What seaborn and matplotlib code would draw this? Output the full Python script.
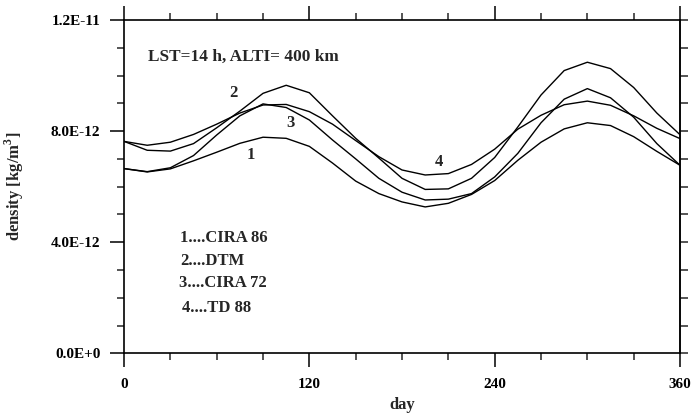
"""
Seasonal variation of thermospheric density from four models
(LST=14 h, altitude 400 km). Saves out.png.
"""

import pandas as pd
import matplotlib
matplotlib.use('Agg')
import matplotlib.pyplot as plt
import seaborn as sns
from matplotlib.ticker import MultipleLocator

# day of year, every 15 days
days = [0, 15, 30, 45, 60, 75, 90, 105, 120, 135, 150, 165, 180,
        195, 210, 225, 240, 255, 270, 285, 300, 315, 330, 345, 360]

# density in units of 1E-12 kg/m^3
cira86 = [6.65, 6.53, 6.64, 6.93, 7.24, 7.56, 7.78, 7.74, 7.45, 6.85, 6.20, 5.75, 5.45,
          5.27, 5.40, 5.72, 6.22, 6.95, 7.60, 8.08, 8.30, 8.20, 7.80, 7.27, 6.77]
dtm = [7.63, 7.31, 7.28, 7.55, 8.12, 8.72, 9.36, 9.65, 9.38, 8.55, 7.74, 7.03, 6.30,
       5.90, 5.92, 6.30, 7.05, 8.15, 9.30, 10.18, 10.48, 10.25, 9.57, 8.65, 7.87]
cira72 = [6.65, 6.54, 6.68, 7.12, 7.86, 8.55, 8.98, 8.85, 8.40, 7.68, 7.00, 6.30, 5.80,
          5.52, 5.55, 5.75, 6.35, 7.20, 8.30, 9.15, 9.53, 9.20, 8.50, 7.55, 6.77]
td88 = [7.63, 7.49, 7.60, 7.88, 8.25, 8.65, 8.94, 8.96, 8.70, 8.25, 7.66, 7.08, 6.60,
        6.42, 6.47, 6.80, 7.35, 8.07, 8.57, 8.95, 9.08, 8.93, 8.55, 8.10, 7.73]

model_names = ['CIRA 86', 'DTM', 'CIRA 72', 'TD 88']
x_ticks = [0, 120, 240, 360]
y_ticks = [0.0, 4e-12, 8e-12, 1.2e-11]
y_tick_labels = ['0.0E+0', '4.0E-12', '8.0E-12', '1.2E-11']

sns.set_style("ticks")
plt.rcParams['font.family'] = ['Liberation Serif', 'DejaVu Serif']
plt.rcParams['font.weight'] = 'bold'
plt.rcParams['mathtext.fontset'] = 'custom'
plt.rcParams['mathtext.rm'] = 'Liberation Serif:bold'
plt.rcParams['mathtext.bf'] = 'Liberation Serif:bold'

# long form table for seaborn
frames = []
for name, vals in zip(model_names, [cira86, dtm, cira72, td88]):
    frames.append(pd.DataFrame({'day': days,
                                'density': [v * 1e-12 for v in vals],
                                'model': name}))
df = pd.concat(frames, ignore_index=True)

fig = plt.figure(figsize=(6.91, 4.17), dpi=100)
ax = fig.add_axes([0.1795, 0.1528, 0.8046, 0.7992])

sns.lineplot(data=df, x='day', y='density', hue='model', hue_order=model_names,
             palette=['black'] * 4, linewidth=1.0, legend=False, ax=ax)

ax.set_xlim(0, 360)
ax.set_ylim(0, 1.2e-11)
ax.set_xticks(x_ticks)
ax.set_xticklabels([str(t) for t in x_ticks])
ax.set_yticks(y_ticks)
ax.set_yticklabels(y_tick_labels)
ax.xaxis.set_minor_locator(MultipleLocator(30))
ax.yaxis.set_minor_locator(MultipleLocator(1e-12))

for s in ax.spines.values():
    s.set_linewidth(1.2)
    s.set_color('black')

ax.tick_params(axis='both', which='major', direction='out', length=10, width=1.1,
               labelsize=11, colors='black')
ax.tick_params(axis='both', which='minor', direction='out', length=5, width=1.1)
ax.tick_params(axis='x', which='both', top=True)
ax.tick_params(axis='x', which='major', pad=8)
ax.tick_params(axis='y', which='major', pad=7)

# right axis: short ticks, no labels
sec = ax.secondary_yaxis('right')
sec.set_yticks(y_ticks)
sec.yaxis.set_minor_locator(MultipleLocator(1e-12))
sec.tick_params(axis='y', which='both', direction='out', length=5.5, width=1.1,
                labelright=False)
sec.spines['right'].set_linewidth(1.2)

ax.set_xlabel('day', fontsize=12, fontweight='bold')
ax.xaxis.set_label_coords(0.5, -0.132)
ax.set_ylabel('density [kg/m$^3$]', fontsize=12, fontweight='bold')
ax.yaxis.set_label_coords(-0.176, 0.5)

ax.text(0.043, 0.889, 'LST=14 h, ALTI= 400 km', transform=ax.transAxes,
        fontsize=12.4, fontweight='bold', va='center', ha='left')

# curve numbers
ax.text(82, 7.13e-12, '1', fontsize=12, fontweight='bold', ha='center', va='center')
ax.text(71, 9.36e-12, '2', fontsize=12, fontweight='bold', ha='center', va='center')
ax.text(107.5, 8.28e-12, '3', fontsize=12, fontweight='bold', ha='center', va='center')
ax.text(204, 6.88e-12, '4', fontsize=12, fontweight='bold', ha='center', va='center')

legend_y = [0.346, 0.277, 0.21, 0.135]
legend_x = [0.1007, 0.1007, 0.099, 0.104]
for i, name in enumerate(model_names):
    ax.text(legend_x[i], legend_y[i], f'{i + 1}....{name}', transform=ax.transAxes,
            fontsize=12, fontweight='bold', va='center', ha='left')

fig.savefig('out.png', dpi=100)
